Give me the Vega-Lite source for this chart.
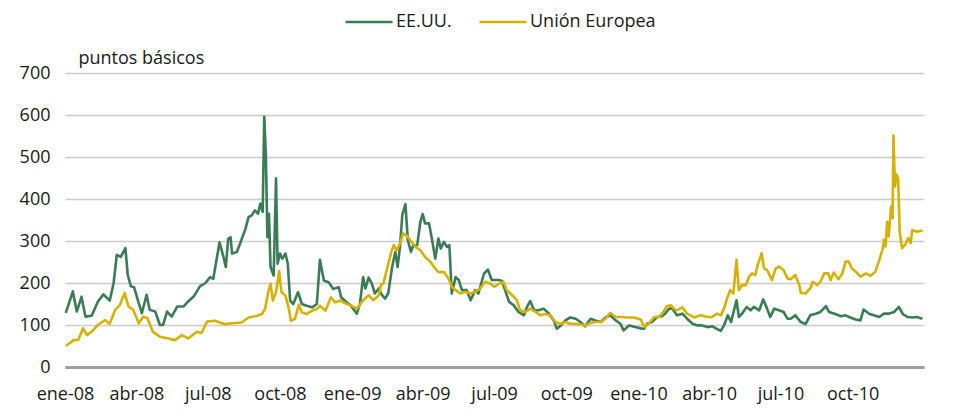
{
  "$schema": "https://vega.github.io/schema/vega-lite/v6.json",
  "width": 859,
  "height": 294,
  "autosize": {"type": "none"},
  "padding": {"left": 65, "top": 73, "right": 31, "bottom": 49},
  "background": "white",
  "config": {
    "font": "Open Sans",
    "view": {"stroke": null}
  },
  "data": {
    "values": [
      {"d":"2008-01-02","s":"EE.UU.","v":129},{"d":"2008-01-11","s":"EE.UU.","v":180},{"d":"2008-01-16","s":"EE.UU.","v":132},{"d":"2008-01-22","s":"EE.UU.","v":167},{"d":"2008-01-27","s":"EE.UU.","v":120},{"d":"2008-02-04","s":"EE.UU.","v":122},{"d":"2008-02-12","s":"EE.UU.","v":156},{"d":"2008-02-19","s":"EE.UU.","v":173},{"d":"2008-02-27","s":"EE.UU.","v":158},{"d":"2008-03-03","s":"EE.UU.","v":200},{"d":"2008-03-07","s":"EE.UU.","v":267},{"d":"2008-03-12","s":"EE.UU.","v":262},{"d":"2008-03-18","s":"EE.UU.","v":283},{"d":"2008-03-21","s":"EE.UU.","v":219},{"d":"2008-03-25","s":"EE.UU.","v":192},{"d":"2008-03-29","s":"EE.UU.","v":190},{"d":"2008-04-04","s":"EE.UU.","v":152},{"d":"2008-04-08","s":"EE.UU.","v":128},{"d":"2008-04-14","s":"EE.UU.","v":172},{"d":"2008-04-18","s":"EE.UU.","v":136},{"d":"2008-04-25","s":"EE.UU.","v":132},{"d":"2008-05-01","s":"EE.UU.","v":100},{"d":"2008-05-05","s":"EE.UU.","v":100},{"d":"2008-05-10","s":"EE.UU.","v":132},{"d":"2008-05-16","s":"EE.UU.","v":120},{"d":"2008-05-23","s":"EE.UU.","v":144},{"d":"2008-05-31","s":"EE.UU.","v":144},{"d":"2008-06-06","s":"EE.UU.","v":156},{"d":"2008-06-13","s":"EE.UU.","v":168},{"d":"2008-06-21","s":"EE.UU.","v":192},{"d":"2008-06-28","s":"EE.UU.","v":200},{"d":"2008-07-04","s":"EE.UU.","v":214},{"d":"2008-07-08","s":"EE.UU.","v":210},{"d":"2008-07-16","s":"EE.UU.","v":297},{"d":"2008-07-21","s":"EE.UU.","v":262},{"d":"2008-07-24","s":"EE.UU.","v":238},{"d":"2008-07-27","s":"EE.UU.","v":305},{"d":"2008-07-30","s":"EE.UU.","v":309},{"d":"2008-08-01","s":"EE.UU.","v":270},{"d":"2008-08-07","s":"EE.UU.","v":274},{"d":"2008-08-11","s":"EE.UU.","v":293},{"d":"2008-08-18","s":"EE.UU.","v":329},{"d":"2008-08-22","s":"EE.UU.","v":357},{"d":"2008-08-26","s":"EE.UU.","v":361},{"d":"2008-08-30","s":"EE.UU.","v":373},{"d":"2008-09-03","s":"EE.UU.","v":365},{"d":"2008-09-06","s":"EE.UU.","v":389},{"d":"2008-09-09","s":"EE.UU.","v":369},{"d":"2008-09-11","s":"EE.UU.","v":596},{"d":"2008-09-13","s":"EE.UU.","v":508},{"d":"2008-09-15","s":"EE.UU.","v":309},{"d":"2008-09-17","s":"EE.UU.","v":365},{"d":"2008-09-19","s":"EE.UU.","v":238},{"d":"2008-09-23","s":"EE.UU.","v":218},{"d":"2008-09-26","s":"EE.UU.","v":449},{"d":"2008-09-28","s":"EE.UU.","v":246},{"d":"2008-10-01","s":"EE.UU.","v":270},{"d":"2008-10-04","s":"EE.UU.","v":258},{"d":"2008-10-08","s":"EE.UU.","v":270},{"d":"2008-10-11","s":"EE.UU.","v":246},{"d":"2008-10-14","s":"EE.UU.","v":158},{"d":"2008-10-18","s":"EE.UU.","v":150},{"d":"2008-10-24","s":"EE.UU.","v":178},{"d":"2008-10-29","s":"EE.UU.","v":150},{"d":"2008-11-04","s":"EE.UU.","v":146},{"d":"2008-11-11","s":"EE.UU.","v":142},{"d":"2008-11-17","s":"EE.UU.","v":150},{"d":"2008-11-21","s":"EE.UU.","v":255},{"d":"2008-11-26","s":"EE.UU.","v":206},{"d":"2008-12-02","s":"EE.UU.","v":202},{"d":"2008-12-08","s":"EE.UU.","v":186},{"d":"2008-12-15","s":"EE.UU.","v":190},{"d":"2008-12-18","s":"EE.UU.","v":166},{"d":"2008-12-25","s":"EE.UU.","v":154},{"d":"2008-12-30","s":"EE.UU.","v":147},{"d":"2009-01-07","s":"EE.UU.","v":127},{"d":"2009-01-11","s":"EE.UU.","v":151},{"d":"2009-01-15","s":"EE.UU.","v":214},{"d":"2009-01-18","s":"EE.UU.","v":187},{"d":"2009-01-22","s":"EE.UU.","v":213},{"d":"2009-01-26","s":"EE.UU.","v":199},{"d":"2009-01-30","s":"EE.UU.","v":175},{"d":"2009-02-04","s":"EE.UU.","v":187},{"d":"2009-02-08","s":"EE.UU.","v":171},{"d":"2009-02-12","s":"EE.UU.","v":163},{"d":"2009-02-16","s":"EE.UU.","v":175},{"d":"2009-02-21","s":"EE.UU.","v":238},{"d":"2009-02-25","s":"EE.UU.","v":274},{"d":"2009-02-28","s":"EE.UU.","v":238},{"d":"2009-03-03","s":"EE.UU.","v":286},{"d":"2009-03-06","s":"EE.UU.","v":362},{"d":"2009-03-10","s":"EE.UU.","v":388},{"d":"2009-03-13","s":"EE.UU.","v":302},{"d":"2009-03-17","s":"EE.UU.","v":274},{"d":"2009-03-20","s":"EE.UU.","v":290},{"d":"2009-03-25","s":"EE.UU.","v":290},{"d":"2009-03-29","s":"EE.UU.","v":346},{"d":"2009-04-01","s":"EE.UU.","v":364},{"d":"2009-04-04","s":"EE.UU.","v":342},{"d":"2009-04-09","s":"EE.UU.","v":342},{"d":"2009-04-13","s":"EE.UU.","v":302},{"d":"2009-04-17","s":"EE.UU.","v":258},{"d":"2009-04-21","s":"EE.UU.","v":306},{"d":"2009-04-24","s":"EE.UU.","v":282},{"d":"2009-04-28","s":"EE.UU.","v":298},{"d":"2009-05-02","s":"EE.UU.","v":286},{"d":"2009-05-05","s":"EE.UU.","v":290},{"d":"2009-05-08","s":"EE.UU.","v":175},{"d":"2009-05-13","s":"EE.UU.","v":214},{"d":"2009-05-17","s":"EE.UU.","v":207},{"d":"2009-05-21","s":"EE.UU.","v":183},{"d":"2009-05-27","s":"EE.UU.","v":183},{"d":"2009-06-01","s":"EE.UU.","v":159},{"d":"2009-06-07","s":"EE.UU.","v":183},{"d":"2009-06-11","s":"EE.UU.","v":175},{"d":"2009-06-18","s":"EE.UU.","v":222},{"d":"2009-06-23","s":"EE.UU.","v":232},{"d":"2009-06-28","s":"EE.UU.","v":207},{"d":"2009-07-03","s":"EE.UU.","v":207},{"d":"2009-07-07","s":"EE.UU.","v":207},{"d":"2009-07-11","s":"EE.UU.","v":205},{"d":"2009-07-15","s":"EE.UU.","v":183},{"d":"2009-07-20","s":"EE.UU.","v":155},{"d":"2009-07-26","s":"EE.UU.","v":147},{"d":"2009-08-01","s":"EE.UU.","v":131},{"d":"2009-08-08","s":"EE.UU.","v":123},{"d":"2009-08-12","s":"EE.UU.","v":143},{"d":"2009-08-16","s":"EE.UU.","v":157},{"d":"2009-08-21","s":"EE.UU.","v":135},{"d":"2009-08-27","s":"EE.UU.","v":135},{"d":"2009-09-02","s":"EE.UU.","v":139},{"d":"2009-09-09","s":"EE.UU.","v":127},{"d":"2009-09-15","s":"EE.UU.","v":111},{"d":"2009-09-19","s":"EE.UU.","v":91},{"d":"2009-09-24","s":"EE.UU.","v":99},{"d":"2009-09-30","s":"EE.UU.","v":111},{"d":"2009-10-06","s":"EE.UU.","v":118},{"d":"2009-10-13","s":"EE.UU.","v":115},{"d":"2009-10-19","s":"EE.UU.","v":107},{"d":"2009-10-25","s":"EE.UU.","v":97},{"d":"2009-11-01","s":"EE.UU.","v":115},{"d":"2009-11-07","s":"EE.UU.","v":111},{"d":"2009-11-14","s":"EE.UU.","v":107},{"d":"2009-11-20","s":"EE.UU.","v":118},{"d":"2009-11-26","s":"EE.UU.","v":123},{"d":"2009-12-03","s":"EE.UU.","v":111},{"d":"2009-12-09","s":"EE.UU.","v":103},{"d":"2009-12-13","s":"EE.UU.","v":87},{"d":"2009-12-20","s":"EE.UU.","v":99},{"d":"2009-12-28","s":"EE.UU.","v":95},{"d":"2010-01-04","s":"EE.UU.","v":92},{"d":"2010-01-08","s":"EE.UU.","v":91},{"d":"2010-01-12","s":"EE.UU.","v":103},{"d":"2010-01-18","s":"EE.UU.","v":107},{"d":"2010-01-25","s":"EE.UU.","v":119},{"d":"2010-01-31","s":"EE.UU.","v":121},{"d":"2010-02-04","s":"EE.UU.","v":127},{"d":"2010-02-09","s":"EE.UU.","v":139},{"d":"2010-02-13","s":"EE.UU.","v":139},{"d":"2010-02-19","s":"EE.UU.","v":123},{"d":"2010-02-26","s":"EE.UU.","v":127},{"d":"2010-03-04","s":"EE.UU.","v":115},{"d":"2010-03-11","s":"EE.UU.","v":103},{"d":"2010-03-17","s":"EE.UU.","v":99},{"d":"2010-03-23","s":"EE.UU.","v":99},{"d":"2010-03-30","s":"EE.UU.","v":95},{"d":"2010-04-05","s":"EE.UU.","v":97},{"d":"2010-04-11","s":"EE.UU.","v":91},{"d":"2010-04-16","s":"EE.UU.","v":86},{"d":"2010-04-20","s":"EE.UU.","v":99},{"d":"2010-04-25","s":"EE.UU.","v":123},{"d":"2010-04-29","s":"EE.UU.","v":107},{"d":"2010-05-06","s":"EE.UU.","v":159},{"d":"2010-05-09","s":"EE.UU.","v":119},{"d":"2010-05-13","s":"EE.UU.","v":127},{"d":"2010-05-19","s":"EE.UU.","v":143},{"d":"2010-05-24","s":"EE.UU.","v":135},{"d":"2010-05-28","s":"EE.UU.","v":143},{"d":"2010-06-04","s":"EE.UU.","v":135},{"d":"2010-06-09","s":"EE.UU.","v":161},{"d":"2010-06-14","s":"EE.UU.","v":139},{"d":"2010-06-18","s":"EE.UU.","v":119},{"d":"2010-06-23","s":"EE.UU.","v":139},{"d":"2010-06-29","s":"EE.UU.","v":135},{"d":"2010-07-05","s":"EE.UU.","v":131},{"d":"2010-07-10","s":"EE.UU.","v":115},{"d":"2010-07-14","s":"EE.UU.","v":115},{"d":"2010-07-20","s":"EE.UU.","v":123},{"d":"2010-07-27","s":"EE.UU.","v":107},{"d":"2010-08-02","s":"EE.UU.","v":102},{"d":"2010-08-08","s":"EE.UU.","v":123},{"d":"2010-08-15","s":"EE.UU.","v":127},{"d":"2010-08-21","s":"EE.UU.","v":131},{"d":"2010-08-28","s":"EE.UU.","v":145},{"d":"2010-09-01","s":"EE.UU.","v":131},{"d":"2010-09-09","s":"EE.UU.","v":126},{"d":"2010-09-16","s":"EE.UU.","v":121},{"d":"2010-09-22","s":"EE.UU.","v":123},{"d":"2010-09-28","s":"EE.UU.","v":118},{"d":"2010-10-05","s":"EE.UU.","v":113},{"d":"2010-10-11","s":"EE.UU.","v":111},{"d":"2010-10-15","s":"EE.UU.","v":137},{"d":"2010-10-22","s":"EE.UU.","v":127},{"d":"2010-10-28","s":"EE.UU.","v":123},{"d":"2010-11-04","s":"EE.UU.","v":119},{"d":"2010-11-10","s":"EE.UU.","v":127},{"d":"2010-11-16","s":"EE.UU.","v":127},{"d":"2010-11-23","s":"EE.UU.","v":131},{"d":"2010-11-29","s":"EE.UU.","v":143},{"d":"2010-12-04","s":"EE.UU.","v":126},{"d":"2010-12-10","s":"EE.UU.","v":119},{"d":"2010-12-16","s":"EE.UU.","v":118},{"d":"2010-12-22","s":"EE.UU.","v":119},{"d":"2010-12-29","s":"EE.UU.","v":115},
      {"d":"2008-01-02","s":"Unión Europea","v":50},{"d":"2008-01-12","s":"Unión Europea","v":64},{"d":"2008-01-18","s":"Unión Europea","v":65},{"d":"2008-01-24","s":"Unión Europea","v":92},{"d":"2008-01-29","s":"Unión Europea","v":76},{"d":"2008-02-04","s":"Unión Europea","v":84},{"d":"2008-02-12","s":"Unión Europea","v":100},{"d":"2008-02-21","s":"Unión Europea","v":112},{"d":"2008-02-27","s":"Unión Europea","v":103},{"d":"2008-03-05","s":"Unión Europea","v":136},{"d":"2008-03-11","s":"Unión Europea","v":148},{"d":"2008-03-17","s":"Unión Europea","v":176},{"d":"2008-03-22","s":"Unión Europea","v":144},{"d":"2008-03-28","s":"Unión Europea","v":136},{"d":"2008-04-04","s":"Unión Europea","v":104},{"d":"2008-04-10","s":"Unión Europea","v":120},{"d":"2008-04-15","s":"Unión Europea","v":116},{"d":"2008-04-22","s":"Unión Europea","v":84},{"d":"2008-05-01","s":"Unión Europea","v":72},{"d":"2008-05-12","s":"Unión Europea","v":68},{"d":"2008-05-20","s":"Unión Europea","v":64},{"d":"2008-05-29","s":"Unión Europea","v":76},{"d":"2008-06-06","s":"Unión Europea","v":68},{"d":"2008-06-17","s":"Unión Europea","v":84},{"d":"2008-06-23","s":"Unión Europea","v":81},{"d":"2008-06-30","s":"Unión Europea","v":108},{"d":"2008-07-10","s":"Unión Europea","v":110},{"d":"2008-07-23","s":"Unión Europea","v":102},{"d":"2008-08-01","s":"Unión Europea","v":104},{"d":"2008-08-13","s":"Unión Europea","v":106},{"d":"2008-08-22","s":"Unión Europea","v":118},{"d":"2008-09-02","s":"Unión Europea","v":122},{"d":"2008-09-08","s":"Unión Europea","v":126},{"d":"2008-09-12","s":"Unión Europea","v":138},{"d":"2008-09-16","s":"Unión Europea","v":178},{"d":"2008-09-19","s":"Unión Europea","v":198},{"d":"2008-09-22","s":"Unión Europea","v":158},{"d":"2008-09-26","s":"Unión Europea","v":178},{"d":"2008-09-30","s":"Unión Europea","v":228},{"d":"2008-10-03","s":"Unión Europea","v":178},{"d":"2008-10-08","s":"Unión Europea","v":170},{"d":"2008-10-12","s":"Unión Europea","v":142},{"d":"2008-10-15","s":"Unión Europea","v":110},{"d":"2008-10-20","s":"Unión Europea","v":114},{"d":"2008-10-25","s":"Unión Europea","v":148},{"d":"2008-10-29","s":"Unión Europea","v":130},{"d":"2008-11-04","s":"Unión Europea","v":126},{"d":"2008-11-11","s":"Unión Europea","v":134},{"d":"2008-11-17","s":"Unión Europea","v":138},{"d":"2008-11-21","s":"Unión Europea","v":146},{"d":"2008-11-28","s":"Unión Europea","v":134},{"d":"2008-12-05","s":"Unión Europea","v":166},{"d":"2008-12-10","s":"Unión Europea","v":154},{"d":"2008-12-17","s":"Unión Europea","v":158},{"d":"2008-12-25","s":"Unión Europea","v":150},{"d":"2008-12-30","s":"Unión Europea","v":147},{"d":"2009-01-07","s":"Unión Europea","v":139},{"d":"2009-01-15","s":"Unión Europea","v":159},{"d":"2009-01-22","s":"Unión Europea","v":171},{"d":"2009-01-28","s":"Unión Europea","v":159},{"d":"2009-02-04","s":"Unión Europea","v":171},{"d":"2009-02-07","s":"Unión Europea","v":197},{"d":"2009-02-10","s":"Unión Europea","v":199},{"d":"2009-02-14","s":"Unión Europea","v":230},{"d":"2009-02-20","s":"Unión Europea","v":274},{"d":"2009-02-23","s":"Unión Europea","v":290},{"d":"2009-02-27","s":"Unión Europea","v":278},{"d":"2009-03-03","s":"Unión Europea","v":294},{"d":"2009-03-07","s":"Unión Europea","v":318},{"d":"2009-03-11","s":"Unión Europea","v":314},{"d":"2009-03-16","s":"Unión Europea","v":302},{"d":"2009-03-23","s":"Unión Europea","v":286},{"d":"2009-03-29","s":"Unión Europea","v":278},{"d":"2009-04-04","s":"Unión Europea","v":262},{"d":"2009-04-11","s":"Unión Europea","v":250},{"d":"2009-04-17","s":"Unión Europea","v":234},{"d":"2009-04-21","s":"Unión Europea","v":226},{"d":"2009-04-28","s":"Unión Europea","v":226},{"d":"2009-05-04","s":"Unión Europea","v":210},{"d":"2009-05-08","s":"Unión Europea","v":191},{"d":"2009-05-13","s":"Unión Europea","v":183},{"d":"2009-05-19","s":"Unión Europea","v":175},{"d":"2009-05-25","s":"Unión Europea","v":179},{"d":"2009-06-01","s":"Unión Europea","v":175},{"d":"2009-06-07","s":"Unión Europea","v":179},{"d":"2009-06-13","s":"Unión Europea","v":187},{"d":"2009-06-20","s":"Unión Europea","v":203},{"d":"2009-06-26","s":"Unión Europea","v":199},{"d":"2009-07-01","s":"Unión Europea","v":191},{"d":"2009-07-09","s":"Unión Europea","v":200},{"d":"2009-07-13","s":"Unión Europea","v":203},{"d":"2009-07-17","s":"Unión Europea","v":183},{"d":"2009-07-24","s":"Unión Europea","v":171},{"d":"2009-07-30","s":"Unión Europea","v":159},{"d":"2009-08-03","s":"Unión Europea","v":135},{"d":"2009-08-10","s":"Unión Europea","v":131},{"d":"2009-08-16","s":"Unión Europea","v":139},{"d":"2009-08-23","s":"Unión Europea","v":131},{"d":"2009-08-29","s":"Unión Europea","v":123},{"d":"2009-09-04","s":"Unión Europea","v":126},{"d":"2009-09-11","s":"Unión Europea","v":123},{"d":"2009-09-17","s":"Unión Europea","v":107},{"d":"2009-09-24","s":"Unión Europea","v":103},{"d":"2009-09-30","s":"Unión Europea","v":107},{"d":"2009-10-06","s":"Unión Europea","v":103},{"d":"2009-10-13","s":"Unión Europea","v":103},{"d":"2009-10-19","s":"Unión Europea","v":101},{"d":"2009-10-25","s":"Unión Europea","v":99},{"d":"2009-11-01","s":"Unión Europea","v":105},{"d":"2009-11-07","s":"Unión Europea","v":107},{"d":"2009-11-14","s":"Unión Europea","v":107},{"d":"2009-11-20","s":"Unión Europea","v":115},{"d":"2009-11-26","s":"Unión Europea","v":129},{"d":"2009-12-03","s":"Unión Europea","v":119},{"d":"2009-12-09","s":"Unión Europea","v":119},{"d":"2009-12-18","s":"Unión Europea","v":118},{"d":"2009-12-26","s":"Unión Europea","v":118},{"d":"2010-01-04","s":"Unión Europea","v":113},{"d":"2010-01-08","s":"Unión Europea","v":95},{"d":"2010-01-14","s":"Unión Europea","v":103},{"d":"2010-01-21","s":"Unión Europea","v":119},{"d":"2010-01-27","s":"Unión Europea","v":119},{"d":"2010-02-02","s":"Unión Europea","v":131},{"d":"2010-02-06","s":"Unión Europea","v":145},{"d":"2010-02-11","s":"Unión Europea","v":147},{"d":"2010-02-15","s":"Unión Europea","v":139},{"d":"2010-02-19","s":"Unión Europea","v":135},{"d":"2010-02-26","s":"Unión Europea","v":142},{"d":"2010-03-04","s":"Unión Europea","v":127},{"d":"2010-03-13","s":"Unión Europea","v":118},{"d":"2010-03-21","s":"Unión Europea","v":123},{"d":"2010-03-30","s":"Unión Europea","v":119},{"d":"2010-04-05","s":"Unión Europea","v":119},{"d":"2010-04-11","s":"Unión Europea","v":127},{"d":"2010-04-16","s":"Unión Europea","v":123},{"d":"2010-04-20","s":"Unión Europea","v":139},{"d":"2010-04-24","s":"Unión Europea","v":163},{"d":"2010-04-28","s":"Unión Europea","v":183},{"d":"2010-05-02","s":"Unión Europea","v":175},{"d":"2010-05-06","s":"Unión Europea","v":255},{"d":"2010-05-09","s":"Unión Europea","v":183},{"d":"2010-05-13","s":"Unión Europea","v":195},{"d":"2010-05-18","s":"Unión Europea","v":195},{"d":"2010-05-22","s":"Unión Europea","v":215},{"d":"2010-05-26","s":"Unión Europea","v":223},{"d":"2010-05-30","s":"Unión Europea","v":219},{"d":"2010-06-02","s":"Unión Europea","v":243},{"d":"2010-06-07","s":"Unión Europea","v":271},{"d":"2010-06-10","s":"Unión Europea","v":235},{"d":"2010-06-14","s":"Unión Europea","v":231},{"d":"2010-06-20","s":"Unión Europea","v":207},{"d":"2010-06-25","s":"Unión Europea","v":235},{"d":"2010-06-29","s":"Unión Europea","v":239},{"d":"2010-07-05","s":"Unión Europea","v":231},{"d":"2010-07-10","s":"Unión Europea","v":211},{"d":"2010-07-14","s":"Unión Europea","v":209},{"d":"2010-07-20","s":"Unión Europea","v":219},{"d":"2010-07-25","s":"Unión Europea","v":195},{"d":"2010-07-27","s":"Unión Europea","v":177},{"d":"2010-08-02","s":"Unión Europea","v":175},{"d":"2010-08-08","s":"Unión Europea","v":187},{"d":"2010-08-11","s":"Unión Europea","v":203},{"d":"2010-08-17","s":"Unión Europea","v":195},{"d":"2010-08-21","s":"Unión Europea","v":203},{"d":"2010-08-26","s":"Unión Europea","v":223},{"d":"2010-08-31","s":"Unión Europea","v":223},{"d":"2010-09-03","s":"Unión Europea","v":207},{"d":"2010-09-07","s":"Unión Europea","v":225},{"d":"2010-09-13","s":"Unión Europea","v":209},{"d":"2010-09-18","s":"Unión Europea","v":223},{"d":"2010-09-22","s":"Unión Europea","v":251},{"d":"2010-09-26","s":"Unión Europea","v":251},{"d":"2010-09-30","s":"Unión Europea","v":235},{"d":"2010-10-05","s":"Unión Europea","v":227},{"d":"2010-10-11","s":"Unión Europea","v":215},{"d":"2010-10-18","s":"Unión Europea","v":223},{"d":"2010-10-24","s":"Unión Europea","v":217},{"d":"2010-10-30","s":"Unión Europea","v":227},{"d":"2010-11-04","s":"Unión Europea","v":255},{"d":"2010-11-08","s":"Unión Europea","v":279},{"d":"2010-11-10","s":"Unión Europea","v":303},{"d":"2010-11-12","s":"Unión Europea","v":287},{"d":"2010-11-14","s":"Unión Europea","v":346},{"d":"2010-11-16","s":"Unión Europea","v":311},{"d":"2010-11-19","s":"Unión Europea","v":382},{"d":"2010-11-21","s":"Unión Europea","v":354},{"d":"2010-11-22","s":"Unión Europea","v":551},{"d":"2010-11-24","s":"Unión Europea","v":430},{"d":"2010-11-26","s":"Unión Europea","v":458},{"d":"2010-11-28","s":"Unión Europea","v":450},{"d":"2010-11-30","s":"Unión Europea","v":322},{"d":"2010-12-03","s":"Unión Europea","v":283},{"d":"2010-12-07","s":"Unión Europea","v":291},{"d":"2010-12-11","s":"Unión Europea","v":307},{"d":"2010-12-14","s":"Unión Europea","v":295},{"d":"2010-12-16","s":"Unión Europea","v":326},{"d":"2010-12-22","s":"Unión Europea","v":322},{"d":"2010-12-29","s":"Unión Europea","v":325}
    ]
  },
  "mark": {"type": "line", "strokeWidth": 2.6, "strokeJoin": "round"},
  "encoding": {
    "x": {
      "field": "d",
      "type": "temporal",
      "scale": {"type": "utc", "domain": ["2008-01-01", "2010-12-31"]},
      "axis": {
        "title": null,
        "grid": false,
        "ticks": false,
        "domain": true,
        "domainColor": "#a0a0a0",
        "domainWidth": 3,
        "tickCount": {"interval": "month", "step": 3},
        "labelExpr": "['ene','feb','mar','abr','may','jun','jul','ago','sep','oct','nov','dic'][utcmonth(datum.value)] + '-' + utcFormat(datum.value, '%y')",
        "labelFontSize": 18,
        "labelColor": "#1a1a1a",
        "labelPadding": 18,
        "labelOverlap": false,
        "labelFlush": false
      }
    },
    "y": {
      "field": "v",
      "type": "quantitative",
      "scale": {"domain": [0, 700]},
      "axis": {
        "values": [0, 100, 200, 300, 400, 500, 600, 700],
        "title": "puntos básicos",
        "titleAngle": 0,
        "titleAlign": "left",
        "titleBaseline": "middle",
        "titleX": 13,
        "titleY": -15,
        "titleFontSize": 18,
        "titleFontWeight": "normal",
        "titleColor": "#1a1a1a",
        "domain": false,
        "ticks": false,
        "grid": true,
        "gridColor": "#cccccc",
        "gridWidth": 1.5,
        "labelFontSize": 18,
        "labelColor": "#1a1a1a",
        "labelPadding": 15
      }
    },
    "color": {
      "field": "s",
      "type": "nominal",
      "sort": ["EE.UU.", "Unión Europea"],
      "scale": {"domain": ["EE.UU.", "Unión Europea"], "range": ["#3b7c56", "#d6b200"]},
      "legend": {
        "title": null,
        "orient": "none",
        "direction": "horizontal",
        "legendX": 279,
        "legendY": -76,
        "padding": 0,
        "symbolType": "stroke",
        "symbolSize": 2209,
        "symbolStrokeWidth": 2.6,
        "labelFontSize": 18,
        "labelColor": "#1a1a1a",
        "labelOffset": 2,
        "columnPadding": 22
      }
    }
  }
}
